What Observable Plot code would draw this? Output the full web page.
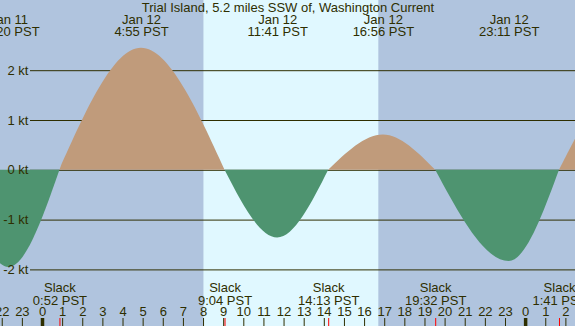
<!DOCTYPE html>
<html><head><meta charset="utf-8">
<script src="https://cdn.jsdelivr.net/npm/d3@7"></script>
<script src="https://cdn.jsdelivr.net/npm/@observablehq/plot@0.6"></script>
<style>html,body{margin:0;padding:0;overflow:hidden;background:#b0c4de}</style>
</head><body><div id="chart"></div>
<script>
// ---- data (hours relative to Jan 12 00:00 PST) ----
const title = "Trial Island, 5.2 miles SSW of, Washington Current";
const maxTimes  = [-1.667, 4.917, 11.683, 16.933, 23.183];
const maxValues = [-1.95, 2.45, -1.36, 0.71, -1.83];
const maxDates  = ["Jan 11", "Jan 12", "Jan 12", "Jan 12", "Jan 12"];
const maxClock  = ["22:20 PST", "4:55 PST", "11:41 PST", "16:56 PST", "23:11 PST"];
const slackTimes = [0.867, 9.067, 14.217, 19.533, 25.683];
const slackClock = ["0:52 PST", "9:04 PST", "14:13 PST", "19:32 PST", "1:41 PST"];
// events just outside the visible window (estimated)
const prevSlackTime = -4.25;
const nextMaxTime = 29.75, nextMaxValue = 2.15;
const nextSlackTime = 33.8;
const sunrise = 8.02, sunset = 16.72;
const ktTicks = [-2, -1, 0, 1, 2];
const ktLabels = ["-2 kt", "-1 kt", "0 kt", "1 kt", "2 kt"];
const hourTicks = [-2,-1,0,1,2,3,4,5,6,7,8,9,10,11,12,13,14,15,16,17,18,19,20,21,22,23,24,25,26];
const hourLabels = ["22","23","0","1","2","3","4","5","6","7","8","9","10","11","12","13","14","15","16","17","18","19","20","21","22","23","0","1","2"];

// ---- styles ----
const W = 575, H = 326;
const nightColor = "#b0c4de", dayColor = "#e0f8ff";
const floodColor = "#c09b7b", ebbColor = "#4e9470";
const ink = "#2e2e00";
const pxPerHour = 20.13, zeroX = 42;
const pxPerKt = 49.8, zeroY = 169.8;
const xDomain = [-zeroX / pxPerHour, (W - zeroX) / pxPerHour];
const yDomain = [-(H - zeroY) / pxPerKt, zeroY / pxPerKt];

// ---- build tables ----
const slacksAll = [prevSlackTime, ...slackTimes, nextSlackTime];
const maxAllT = [...maxTimes, nextMaxTime];
const maxAllV = [...maxValues, nextMaxValue];
const rows = [];
maxAllT.forEach((t, i) => {
  const type = maxAllV[i] > 0 ? "flood" : "ebb";
  rows.push({seg: i, type, t: slacksAll[i], v: 0});
  rows.push({seg: i, type, t, v: maxAllV[i]});
  rows.push({seg: i, type, t: slacksAll[i + 1], v: 0});
});
const periods = [
  {x1: xDomain[0], x2: sunrise, fill: nightColor},
  {x1: sunrise, x2: sunset, fill: dayColor},
  {x1: sunset, x2: xDomain[1], fill: nightColor}
];
const maxRows = maxTimes.map((t, i) => ({t, date: maxDates[i], clock: maxClock[i]}));
const slackRows = slackTimes.map((t, i) => ({t, clock: slackClock[i]}));
const hourRows = hourTicks.map((h, i) => ({h, label: hourLabels[i], midnight: (h % 24) === 0}));
const ktRows = ktTicks.map((v, i) => ({v, label: ktLabels[i]}));

const txt = {fill: ink, fontSize: 13, fontFamily: "Liberation Sans, Arial, sans-serif", clip: true};

const chart = Plot.plot({
  width: W, height: H,
  marginTop: 0, marginRight: 0, marginBottom: 0, marginLeft: 0,
  x: {domain: xDomain, axis: null},
  y: {domain: yDomain, axis: null},
  style: {background: nightColor, fontFamily: "Liberation Sans, Arial, sans-serif"},
  marks: [
    Plot.rect(periods, {x1: "x1", x2: "x2", y1: yDomain[0], y2: yDomain[1], fill: "fill"}),
    Plot.ruleY(ktRows, {y: "v", stroke: ink, strokeWidth: 1, insetLeft: 30}),
    Plot.areaY(rows.filter(d => d.type === "flood"), {x: "t", y: "v", z: "seg", fill: floodColor, curve: "monotone-x", clip: true}),
    Plot.areaY(rows.filter(d => d.type === "ebb"), {x: "t", y: "v", z: "seg", fill: ebbColor, curve: "monotone-x", clip: true}),
    Plot.text(ktRows, {...txt, y: "v", text: "label", frameAnchor: "left", textAnchor: "end", dx: 28, lineAnchor: "middle"}),
    Plot.text([title], {...txt, text: d => d, frameAnchor: "top", lineAnchor: "bottom", dy: 11.5}),
    Plot.text(maxRows, {...txt, x: "t", text: "date", frameAnchor: "top", lineAnchor: "bottom", dy: 23.5}),
    Plot.text(maxRows, {...txt, x: "t", text: "clock", frameAnchor: "top", lineAnchor: "bottom", dy: 35.5}),
    Plot.text(slackRows, {...txt, x: "t", text: d => "Slack", frameAnchor: "bottom", lineAnchor: "bottom", dy: -34.3}),
    Plot.text(slackRows, {...txt, x: "t", text: "clock", frameAnchor: "bottom", lineAnchor: "bottom", dy: -22}),
    Plot.text(hourRows, {...txt, x: "h", text: "label", frameAnchor: "bottom", lineAnchor: "bottom", dy: -10.3}),
    Plot.ruleX(hourRows, {x: "h", stroke: ink, strokeWidth: d => d.midnight ? 3.5 : 1, insetTop: 318}),
    Plot.ruleX(slackRows, {x: "t", stroke: "#ff0000", strokeWidth: 1, insetTop: 318})
  ]
});
document.getElementById("chart").appendChild(chart);
</script>
</body></html>
